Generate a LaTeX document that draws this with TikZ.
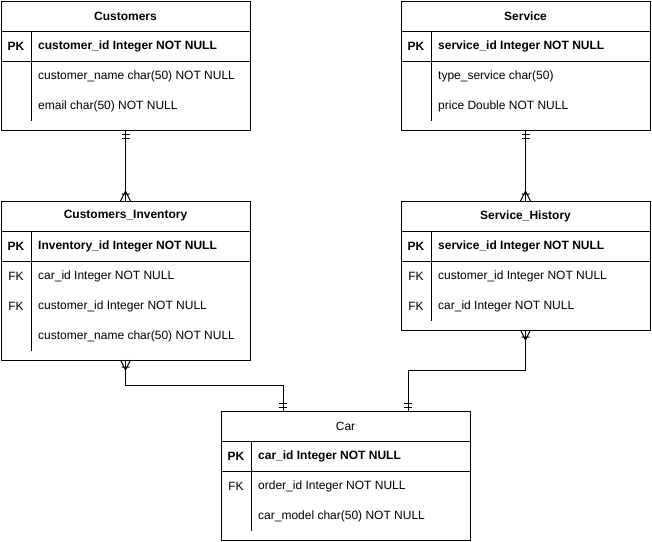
\documentclass[tikz,border=0pt]{standalone}
\usepackage{fontspec}
\setmainfont{Liberation Sans}

\tikzset{
  rel/.style={line width=1pt},
  tbl/.style={draw, line width=1pt, anchor=north west, minimum width=249pt,
    inner sep=0pt, outer sep=0pt},
  ttl/.style={inner sep=0pt, font=\fontsize{12}{14}\selectfont\bfseries},
  keylbl/.style={inner sep=0pt, font=\fontsize{12}{14}\selectfont},
  pklbl/.style={inner sep=0pt, font=\fontsize{12}{14}\selectfont\bfseries},
  fld/.style={anchor=west, inner sep=0pt, font=\fontsize{12}{14}\selectfont},
  pkfld/.style={fld, font=\fontsize{12}{14}\selectfont\bfseries},
  mandone/.pic={\draw[rel] (-4pt,4pt) -- (4pt,4pt) (-4pt,8pt) -- (4pt,8pt);},
  onemany/.pic={\draw[rel] (-5pt,0pt) -- (0pt,10pt) -- (5pt,0pt) (-4pt,7pt) -- (4pt,7pt);},
}

\begin{document}
\begin{tikzpicture}[x=1pt,y=-1pt]
  \useasboundingbox (0,0) rectangle (652,541);

  % Customers
  \node[tbl, minimum height=129pt] (cust) at (1,1) {};
  \draw[rel] (1,31) -- (250,31) (1,61) -- (250,61) (31,31) -- (31,121);
  \node[ttl] (custT) at (125.5,16) {Customers};
  \node[pklbl] (custK1) at (16,46) {PK};
  \node[pkfld] (custF1) at (38,46) {customer\_id Integer NOT NULL};
  \node[fld] (custF2) at (38,76) {customer\_name char(50) NOT NULL};
  \node[fld] (custF3) at (38,106) {email char(50) NOT NULL};

  % Service
  \node[tbl, minimum height=129pt] (serv) at (401,1) {};
  \draw[rel] (401,31) -- (650,31) (401,61) -- (650,61) (431,31) -- (431,121);
  \node[ttl] (servT) at (525.5,16) {Service};
  \node[pklbl] (servK1) at (416,46) {PK};
  \node[pkfld] (servF1) at (438,46) {service\_id Integer NOT NULL};
  \node[fld] (servF2) at (438,76) {type\_service char(50)};
  \node[fld] (servF3) at (438,106) {price Double NOT NULL};

  % Customers_Inventory
  \node[tbl, minimum height=159pt] (inv) at (1,201) {};
  \draw[rel] (1,231) -- (250,231) (1,261) -- (250,261) (31,231) -- (31,351);
  \node[ttl] (invT) at (125.5,216) {Customers\_Inventory};
  \node[pklbl] (invK1) at (16,246) {PK};
  \node[keylbl] (invK2) at (16,276) {FK};
  \node[keylbl] (invK3) at (16,306) {FK};
  \node[pkfld] (invF1) at (38,246) {Inventory\_id Integer NOT NULL};
  \node[fld] (invF2) at (38,276) {car\_id Integer NOT NULL};
  \node[fld] (invF3) at (38,306) {customer\_id Integer NOT NULL};
  \node[fld] (invF4) at (38,336) {customer\_name char(50) NOT NULL};

  % Service_History
  \node[tbl, minimum height=129pt] (hist) at (401,201) {};
  \draw[rel] (401,231) -- (650,231) (401,261) -- (650,261) (431,231) -- (431,321);
  \node[ttl] (histT) at (525.5,216) {Service\_History};
  \node[pklbl] (histK1) at (416,246) {PK};
  \node[keylbl] (histK2) at (416,276) {FK};
  \node[keylbl] (histK3) at (416,306) {FK};
  \node[pkfld] (histF1) at (438,246) {service\_id Integer NOT NULL};
  \node[fld] (histF2) at (438,276) {customer\_id Integer NOT NULL};
  \node[fld] (histF3) at (438,306) {car\_id Integer NOT NULL};

  % Car
  \node[tbl, minimum height=129pt] (car) at (221,411) {};
  \draw[rel] (221,441) -- (470,441) (221,471) -- (470,471) (251,441) -- (251,531);
  \node[keylbl] (carT) at (345.5,426) {Car};
  \node[pklbl] (carK1) at (236,456) {PK};
  \node[keylbl] (carK2) at (236,486) {FK};
  \node[pkfld] (carF1) at (258,456) {car\_id Integer NOT NULL};
  \node[fld] (carF2) at (258,486) {order\_id Integer NOT NULL};
  \node[fld] (carF3) at (258,516) {car\_model char(50) NOT NULL};

  \coordinate (carIn) at (283,411);
  \coordinate (carSh) at (408,411);

  % relations
  \draw[rel] (cust.south) -- (inv.north);
  \pic[rotate=180] at (cust.south) {mandone};
  \pic at (inv.north) {onemany};

  \draw[rel] (serv.south) -- (hist.north);
  \pic[rotate=180] at (serv.south) {mandone};
  \pic at (hist.north) {onemany};

  \draw[rel] (inv.south) -- ++(0,25) -| (carIn);
  \pic[rotate=180] at (inv.south) {onemany};
  \pic at (carIn) {mandone};

  \draw[rel] (hist.south) -- ++(0,40) -| (carSh);
  \pic[rotate=180] at (hist.south) {onemany};
  \pic at (carSh) {mandone};
\end{tikzpicture}
\end{document}
